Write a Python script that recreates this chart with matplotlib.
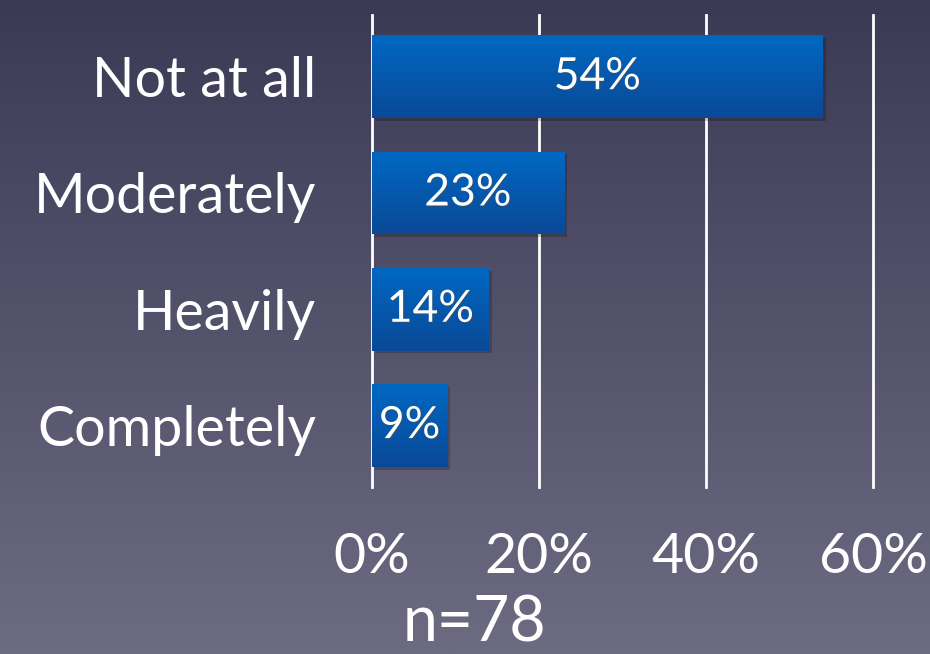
import numpy as np
import matplotlib.pyplot as plt
import matplotlib.patheffects as pe
from matplotlib.colors import LinearSegmentedColormap

# data
categories = ["Not at all", "Moderately", "Heavily", "Completely"]
values = [54, 23, 14, 9]
ticks = [0, 20, 40, 60]
tick_labels = ["0%", "20%", "40%", "60%"]
note = "n=78"

plt.rcParams['font.family'] = ['Lato', 'DejaVu Sans']

fig = plt.figure(figsize=(9.3, 6.54), dpi=100)

# background gradient
bg = fig.add_axes([0, 0, 1, 1], zorder=-10)
bg_cmap = LinearSegmentedColormap.from_list("bg", ["#3b3a55", "#6d6b82"])
bg.imshow(np.linspace(0, 1, 256).reshape(-1, 1), aspect='auto', cmap=bg_cmap,
          extent=[0, 1, 0, 1], origin='upper')
bg.axis('off')

ax = fig.add_axes([0.4, 0.255, 0.5387, 0.722])
ax.patch.set_alpha(0)
y = np.arange(len(categories))

bar_cmap = LinearSegmentedColormap.from_list("bar", ["#0068c2", "#0a4998"])
bars = ax.barh(y, values, height=0.71, color="#0058ae", zorder=3,
               path_effects=[pe.SimplePatchShadow(offset=(2, -2), shadow_rgbFace='black', alpha=0.2), pe.Normal()])
for b, v in zip(bars, values):
    x0, y0 = b.get_x(), b.get_y()
    w, h = b.get_width(), b.get_height()
    im = ax.imshow(np.linspace(0, 1, 64).reshape(-1, 1), aspect='auto', cmap=bar_cmap,
                   extent=[x0, x0 + w, y0 + h, y0], origin='upper', zorder=4)
    im.set_clip_path(b)
    ax.text(x0 + w / 2, y0 + h / 2, f"{v}%", ha='center', va='center', color='white',
            fontsize=32, zorder=5,
            path_effects=[pe.withSimplePatchShadow(offset=(1, -1), alpha=0.4)])

ax.set_xlim(0, 60)
ax.set_ylim(len(categories) - 0.47, -0.53)
ax.set_xticks(ticks)
ax.set_xticklabels(tick_labels, fontsize=40, color='white')
ax.set_yticks(y)
ax.set_yticklabels(categories, fontsize=40, color='white')
ax.tick_params(length=0)
ax.tick_params(axis='y', pad=40)
ax.tick_params(axis='x', pad=32)
ax.grid(axis='x', color='white', linewidth=2, zorder=1)
for gl in ax.get_xgridlines():
    gl.set_clip_on(False)
ax.set_axisbelow(True)
for s in ax.spines.values():
    s.set_visible(False)

fig.text(0.51, 0.047, note, ha='center', va='center', fontsize=45, color='white')

plt.savefig("out.png", dpi=100)
